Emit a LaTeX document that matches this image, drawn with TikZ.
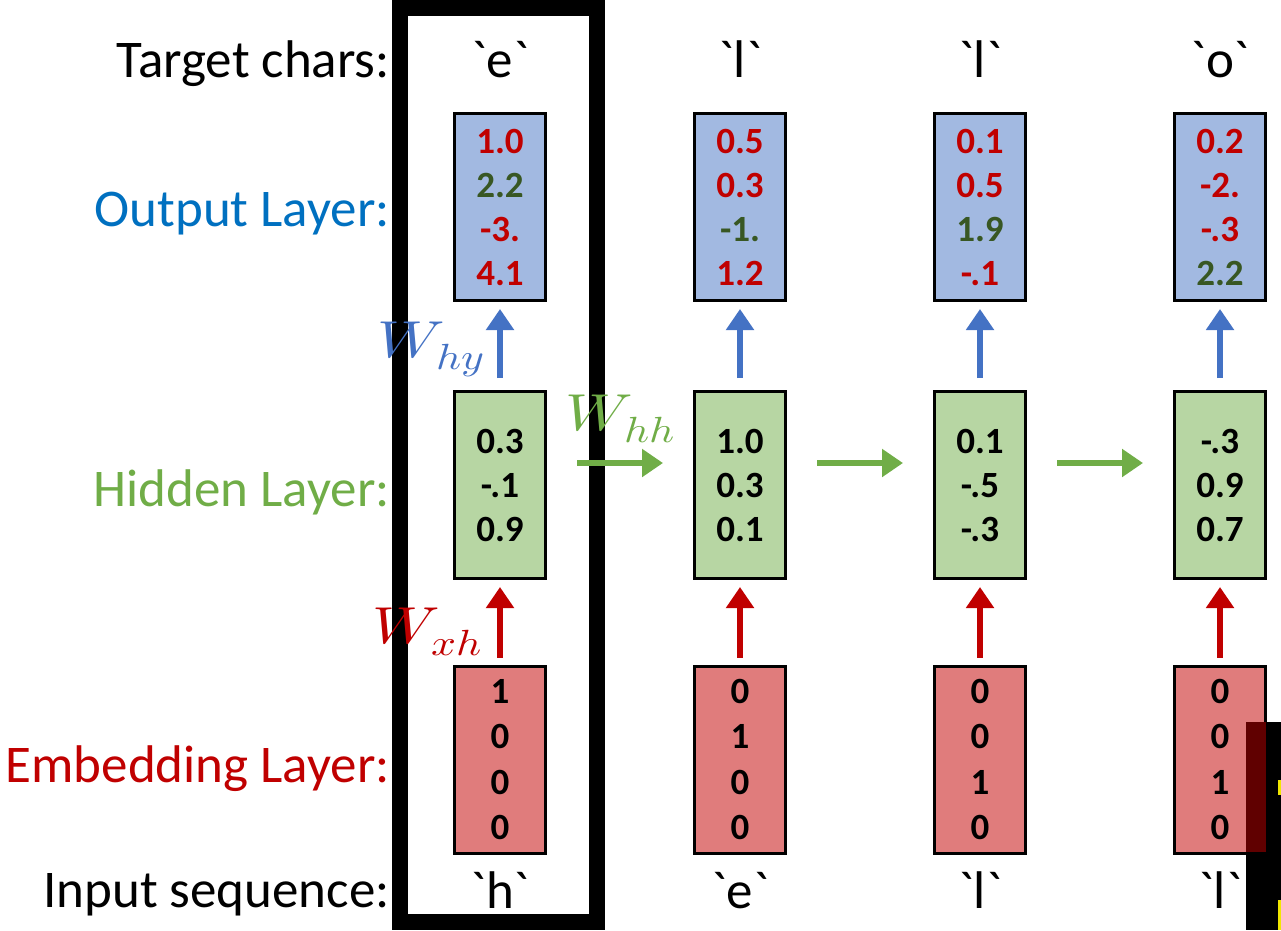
\documentclass[tikz,border=0pt]{standalone}
\usepackage{fontspec}
\usepackage{unicode-math}
\setmainfont{Carlito}[Ligatures=TeXOff]
\setmathfont{Latin Modern Math}
\usetikzlibrary{arrows.meta}
\definecolor{lblue}{RGB}{0,112,192}
\definecolor{lgreen}{RGB}{112,173,71}
\definecolor{lred}{RGB}{192,0,0}
\definecolor{ablue}{RGB}{68,114,196}
\definecolor{fblue}{RGB}{162,185,225}
\definecolor{fgreen}{RGB}{183,214,163}
\definecolor{fred}{RGB}{224,124,124}
\definecolor{dgreen}{RGB}{56,87,35}
\definecolor{darkred}{RGB}{96,0,0}
\definecolor{ylw}{RGB}{240,230,0}
\newcommand{\gq}{\symbol{96}}
\newcommand{\R}[1]{\textcolor{lred}{#1}}
\newcommand{\G}[1]{\textcolor{dgreen}{#1}}
\newcommand{\wide}[1]{\scalebox{1.2}[1]{#1}}
\tikzset{
  vbox/.style={draw=black, line width=3pt, minimum width=91pt, minimum height=187pt, inner sep=0pt, align=center, font=\fontsize{37}{44}\selectfont\bfseries},
  outbox/.style={vbox, fill=fblue},
  hidbox/.style={vbox, fill=fgreen},
  embbox/.style={vbox, fill=fred, font=\fontsize{37}{45.5}\selectfont\bfseries},
  lbl/.style={anchor=base east, inner sep=0pt, font=\fontsize{53}{60}\selectfont},
  chr/.style={anchor=base, inner sep=0pt, font=\fontsize{53}{60}\selectfont},
  wlbl/.style={anchor=base west, inner sep=0pt, font=\fontsize{52}{60}\selectfont},
  arr/.style={line width=6pt, -{Triangle[width=27pt,length=21pt]}},
}
\begin{document}
\begin{tikzpicture}[x=1pt,y=-1pt]
\useasboundingbox (0,0) rectangle (1281,930);
% highlight frame
\draw[line width=16pt] (400,8) rectangle (597,922);
% row labels
\node[lbl] (tl) at (390,77) {Target chars:};
\node[lbl, text=lblue] (ol) at (390,226) {Output Layer:};
\node[lbl, text=lgreen] (hl) at (390,506) {Hidden Layer:};
\node[lbl, text=lred] (el) at (390,782) {Embedding Layer:};
\node[lbl] (il) at (390,907) {Input sequence:};
% target chars
\node[chr] (t1) at (500,77) {\gq e\gq};
\node[chr] (t2) at (740,77) {\gq l\gq};
\node[chr] (t3) at (980,77) {\gq l\gq};
\node[chr] (t4) at (1220,77) {\gq o\gq};
% input chars
\node[chr] (i1) at (500,908) {\gq h\gq};
\node[chr] (i2) at (740,908) {\gq e\gq};
\node[chr] (i3) at (980,908) {\gq l\gq};
\node[chr] (i4) at (1220,908) {\gq l\gq};
% output boxes
\node[outbox] (o1) at (500,207) {\R{1.0}\\\G{2.2}\\\R{-3.}\\\R{4.1}};
\node[outbox] (o2) at (740,207) {\R{0.5}\\\R{0.3}\\\G{-1.}\\\R{1.2}};
\node[outbox] (o3) at (980,207) {\R{0.1}\\\R{0.5}\\\G{1.9}\\\R{-.1}};
\node[outbox] (o4) at (1220,207) {\R{0.2}\\\R{-2.}\\\R{-.3}\\\G{2.2}};
% hidden boxes
\node[hidbox] (h1) at (500,485) {0.3\\-.1\\0.9};
\node[hidbox] (h2) at (740,485) {1.0\\0.3\\0.1};
\node[hidbox] (h3) at (980,485) {0.1\\-.5\\-.3};
\node[hidbox] (h4) at (1220,485) {-.3\\0.9\\0.7};
% embedding boxes
\node[embbox] (e1) at (500,759.5) {1\\0\\0\\0};
\node[embbox] (e2) at (740,759.5) {0\\1\\0\\0};
\node[embbox] (e3) at (980,759.5) {0\\0\\1\\0};
\node[embbox] (e4) at (1220,759.5) {0\\0\\1\\0};
% arrows
\foreach \i in {1,2,3,4}{
  \draw[arr, ablue] ([yshift=12pt]h\i.north) -- ([yshift=-7pt]o\i.south);
  \draw[arr, lred] ([yshift=7pt]e\i.north) -- ([yshift=-7pt]h\i.south);
}
\foreach \i/\j in {1/2,2/3,3/4}{
  \draw[arr, lgreen] ([shift={(30pt,22pt)}]h\i.east) -- ([shift={(-30pt,22pt)}]h\j.west);
}
% weight labels
\node[wlbl, text=ablue] (why) at (377,357) {\wide{$W_{hy}$}};
\node[wlbl, text=lgreen] (whh) at (565,430) {\wide{$W_{hh}$}};
\node[wlbl, text=lred] (wxh) at (372,643) {\wide{$W_{xh}$}};
% corner artefact
\fill[black] (1246,722) rectangle (1281,930);
\fill[darkred] (1246,722) rectangle (1266,852);
\fill[ylw] (1278,780) rectangle (1281,795);
\fill[ylw] (1278,900) rectangle (1281,930);
\end{tikzpicture}
\end{document}
